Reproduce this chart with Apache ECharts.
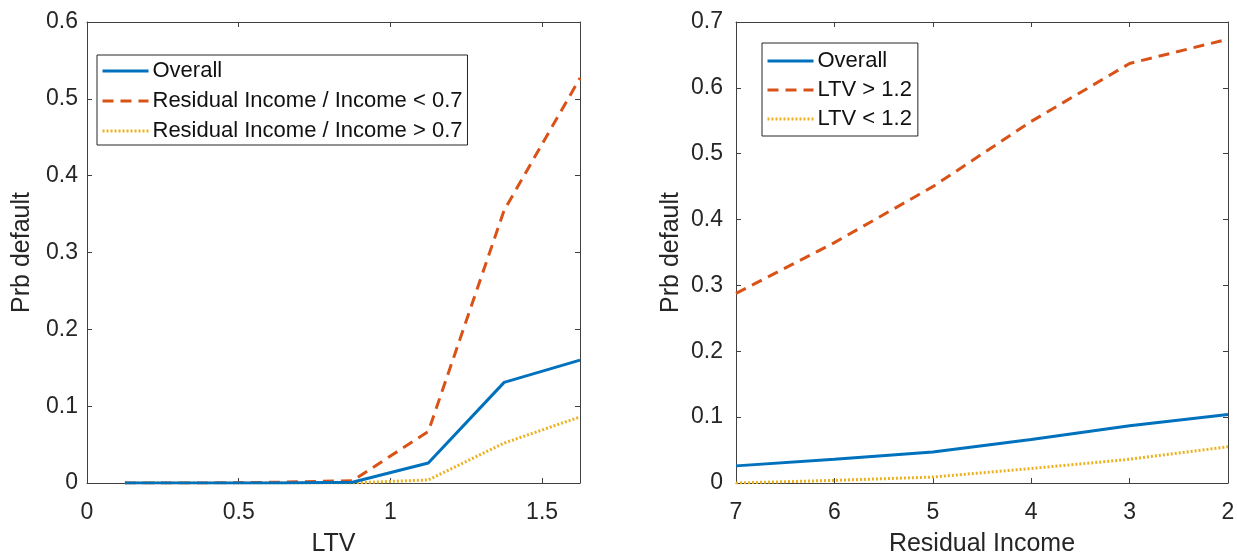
<!DOCTYPE html>
<html>
<head>
<meta charset="utf-8">
<script src="https://cdn.jsdelivr.net/npm/echarts@6/dist/echarts.min.js"></script>
<style>
html,body{margin:0;padding:0;background:#fff;}
#main{width:1237px;height:556px;}
</style>
</head>
<body>
<div id="main"></div>
<script>
// ---- Left panel data (x = LTV) ----
const ltvX = [0.125, 0.375, 0.625, 0.875, 1.125, 1.375, 1.625];
const overallByLtv = [0, 0, 0, 0.001, 0.026, 0.131, 0.160];
const riLowByLtv = [0, 0, 0.001, 0.003, 0.067, 0.355, 0.527];
const riHighByLtv = [0, 0, 0, 0, 0.004, 0.052, 0.086];
const leftNames = ['Overall', 'Residual Income / Income < 0.7', 'Residual Income / Income > 0.7'];

// ---- Right panel data (x = Residual Income) ----
const riX = [7, 6, 5, 4, 3, 2];
const overallByRi = [0.026, 0.036, 0.047, 0.066, 0.087, 0.104];
const ltvHighByRi = [0.288, 0.365, 0.450, 0.549, 0.637, 0.674];
const ltvLowByRi = [0, 0.004, 0.009, 0.022, 0.036, 0.055];
const rightNames = ['Overall', 'LTV > 1.2', 'LTV < 1.2'];

const axisTitles = { leftX: 'LTV', rightX: 'Residual Income', y: 'Prb default' };

const BLUE = '#0072BD', ORANGE = '#D95319', YELLOW = '#EDB120';
const AX = '#404040', TXT = '#262626';
const FONT = '"Liberation Sans", Arial, Helvetica, sans-serif';

function pairs(xs, ys) { return xs.map((x, i) => [x, ys[i]]); }

function lineStyle(kind) {
  if (kind === 0) return { color: BLUE, width: 3, type: 'solid' };
  if (kind === 1) return { color: ORANGE, width: 3, type: [11, 7] };
  return { color: YELLOW, width: 3, type: [2, 2] };
}
const colors = [BLUE, ORANGE, YELLOW];

function mainX(gi, min, max, interval, name, inverse) {
  return {
    type: 'value', gridIndex: gi, position: 'bottom', min, max, interval, inverse: !!inverse,
    name, nameLocation: 'middle', nameGap: 49,
    nameTextStyle: { fontFamily: FONT, fontSize: 25, color: TXT },
    axisLine: { show: true, onZero: false, lineStyle: { color: AX, width: 1 } },
    axisTick: { show: true, inside: true, length: 5, lineStyle: { color: AX } },
    axisLabel: { fontFamily: FONT, fontSize: 23, color: TXT, margin: 18, showMaxLabel: !!inverse },
    splitLine: { show: false }
  };
}
function topX(gi, min, max, interval, inverse) {
  return {
    type: 'value', gridIndex: gi, position: 'top', min, max, interval, inverse: !!inverse,
    axisLine: { show: true, onZero: false, lineStyle: { color: AX, width: 1 } },
    axisTick: { show: true, inside: true, length: 5, lineStyle: { color: AX } },
    axisLabel: { show: false }, splitLine: { show: false }
  };
}
function mainY(gi, max, margin) {
  return {
    type: 'value', gridIndex: gi, position: 'left', min: 0, max, interval: 0.1,
    name: axisTitles.y, nameLocation: 'middle', nameGap: 52,
    nameTextStyle: { fontFamily: FONT, fontSize: 25, color: TXT },
    axisLine: { show: true, onZero: false, lineStyle: { color: AX, width: 1 } },
    axisTick: { show: true, inside: true, length: 5, lineStyle: { color: AX } },
    axisLabel: { fontFamily: FONT, fontSize: 23, color: TXT, margin: margin,
      formatter: v => String(Math.round(v * 10) / 10) },
    splitLine: { show: false }
  };
}
function rightY(gi, max) {
  return {
    type: 'value', gridIndex: gi, position: 'right', min: 0, max, interval: 0.1,
    axisLine: { show: true, onZero: false, lineStyle: { color: AX, width: 1 } },
    axisTick: { show: true, inside: true, length: 5, lineStyle: { color: AX } },
    axisLabel: { show: false }, splitLine: { show: false }
  };
}
function series(name, xs, ys, kind, xi, yi) {
  return {
    type: 'line', name, data: pairs(xs, ys), xAxisIndex: xi, yAxisIndex: yi,
    showSymbol: false, symbol: 'none', lineStyle: lineStyle(kind), itemStyle: { color: colors[kind] },
    animation: false, z: 3 - kind
  };
}
function legend(names, left, top, padding, gap) {
  return {
    orient: 'vertical', left, top, data: names,
    itemWidth: 46, itemHeight: 14, itemGap: gap,
    padding, borderColor: '#262626', borderWidth: 1, backgroundColor: '#fff',
    itemStyle: { opacity: 0, borderWidth: 0 },
    lineStyle: { width: 3 },
    textStyle: { fontFamily: FONT, fontSize: 22, color: '#111', lineHeight: 24, padding: [0, 0, 0, -1] },
    selectedMode: false
  };
}

const chart = echarts.init(document.getElementById('main'), null, { renderer: 'canvas' });
chart.setOption({
  animation: false,
  backgroundColor: '#fff',
  grid: [
    { left: 87, top: 22, width: 493, height: 461, containLabel: false, outerBoundsMode: 'none' },
    { left: 736, top: 22, width: 492, height: 461, containLabel: false, outerBoundsMode: 'none' }
  ],
  xAxis: [
    mainX(0, 0, 1.625, 0.5, axisTitles.leftX, false),
    topX(0, 0, 1.625, 0.5, false),
    mainX(1, 2, 7, 1, axisTitles.rightX, true),
    topX(1, 2, 7, 1, true)
  ],
  yAxis: [
    mainY(0, 0.6, 9),
    rightY(0, 0.6),
    mainY(1, 0.7, 13),
    rightY(1, 0.7)
  ],
  legend: [
    legend(leftNames, 97, 55, [4, 5, 2, 4], 6),
    legend(rightNames, 762, 43, [6, 6, 5, 4], 5)
  ],
  series: [
    series(leftNames[0], ltvX, overallByLtv, 0, 0, 0),
    series(leftNames[1], ltvX, riLowByLtv, 1, 0, 0),
    series(leftNames[2], ltvX, riHighByLtv, 2, 0, 0),
    series(rightNames[0], riX, overallByRi, 0, 2, 2),
    series(rightNames[1], riX, ltvHighByRi, 1, 2, 2),
    series(rightNames[2], riX, ltvLowByRi, 2, 2, 2)
  ]
});
</script>
</body>
</html>
